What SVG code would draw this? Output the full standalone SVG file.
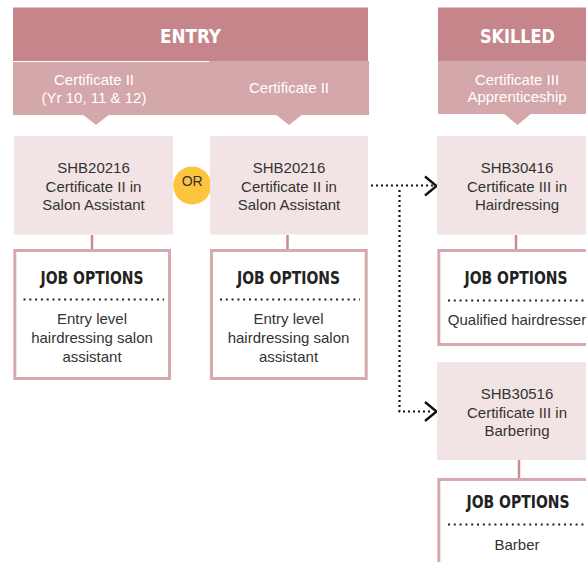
<svg xmlns="http://www.w3.org/2000/svg" width="586" height="562" viewBox="0 0 586 562">
<defs>
<style>
.hdr{fill:#c5858b}
.sub{fill:#d4a7aa}
.hdrt{font-family:"DejaVu Sans Condensed","DejaVu Sans","Liberation Sans",sans-serif;font-weight:bold;font-size:19px;fill:#fff;text-anchor:middle}
.subt{font-family:"Liberation Sans",Arial,sans-serif;font-size:15px;fill:#fff;text-anchor:middle}
.node{fill:#f2e4e4}
.nt{font-family:"Liberation Sans",Arial,sans-serif;font-size:15px;fill:#333;text-anchor:middle}
.job{fill:#fff;stroke:#d6a9ad;stroke-width:3}
.jt{font-family:"DejaVu Sans Condensed","DejaVu Sans","Liberation Sans",sans-serif;font-weight:bold;font-size:17px;fill:#222;text-anchor:middle}
.dots{stroke:#222;stroke-width:2;stroke-dasharray:2 3.8;fill:none}
.link{stroke:#c98a90;stroke-width:2.5;fill:none}
.flow{stroke:#111;stroke-width:2.2;stroke-dasharray:2 3;fill:none}
.chev{stroke:#111;stroke-width:2.4;fill:none}
</style>
</defs>

<g id="entry-header">
<rect class="hdr" x="13" y="7.5" width="355" height="53.5"/>
<rect class="sub" x="13" y="62" width="196" height="53"/>
<rect class="sub" x="209" y="61" width="160" height="54"/>
<polygon class="sub" points="82,114 110,114 96,125"/>
<polygon class="sub" points="275,114 303,114 289,125"/>
<text class="hdrt" x="190.5" y="43" textLength="61" lengthAdjust="spacingAndGlyphs">ENTRY</text>
<text class="subt" x="94" y="85">Certificate II</text>
<text class="subt" x="94" y="102.5">(Yr 10, 11 &amp; 12)</text>
<text class="subt" x="289" y="92.5">Certificate II</text>
</g>

<g id="skilled-header">
<rect class="hdr" x="438" y="7.5" width="160" height="53.5"/>
<rect class="sub" x="438" y="61" width="160" height="53"/>
<polygon class="sub" points="503,113 532,113 517.5,125"/>
<text class="hdrt" x="517.5" y="43" textLength="75" lengthAdjust="spacingAndGlyphs">SKILLED</text>
<text class="subt" x="517" y="85">Certificate III</text>
<text class="subt" x="517" y="102">Apprenticeship</text>
</g>

<g id="connectors">
<line class="link" x1="92" y1="235" x2="92" y2="250"/>
<line class="link" x1="287.5" y1="235" x2="287.5" y2="250"/>
<line class="link" x1="516" y1="235" x2="516" y2="250"/>
<line class="link" x1="519" y1="460" x2="519" y2="479"/>
<path class="flow" d="M371,185.5 H433"/>
<path class="flow" d="M399.5,190 V411.5 H433"/>
<polyline class="chev" points="425,176.5 436.5,186 425,195.5"/>
<polyline class="chev" points="425,402 436.5,411.5 425,421"/>
</g>

<g id="or">
<circle cx="192.2" cy="185.5" r="19" fill="#fdc53e"/>
<text x="192.2" y="186" font-family="'Liberation Sans',Arial,sans-serif" font-size="14" fill="#333" text-anchor="middle">OR</text>
</g>

<g id="node-shb20216-a">
<rect class="node" x="14" y="136" width="159" height="98.5"/>
<text class="nt" x="93.5" y="173">SHB20216</text>
<text class="nt" x="93.5" y="191.5">Certificate II in</text>
<text class="nt" x="93.5" y="210">Salon Assistant</text>
</g>

<g id="node-shb20216-b">
<rect class="node" x="210" y="136" width="158" height="98.5"/>
<text class="nt" x="289" y="173">SHB20216</text>
<text class="nt" x="289" y="191.5">Certificate II in</text>
<text class="nt" x="289" y="210">Salon Assistant</text>
</g>

<g id="node-shb30416">
<rect class="node" x="437" y="136" width="160" height="98.5"/>
<text class="nt" x="517" y="173">SHB30416</text>
<text class="nt" x="517" y="191.5">Certificate III in</text>
<text class="nt" x="517" y="210">Hairdressing</text>
</g>

<g id="node-shb30516">
<rect class="node" x="437" y="362" width="160" height="98"/>
<text class="nt" x="517" y="399">SHB30516</text>
<text class="nt" x="517" y="417.5">Certificate III in</text>
<text class="nt" x="517" y="436">Barbering</text>
</g>

<g id="job-a">
<rect class="job" x="14.8" y="250.5" width="154.7" height="128"/>
<text class="jt" x="92" y="284" textLength="103" lengthAdjust="spacingAndGlyphs">JOB OPTIONS</text>
<line class="dots" x1="23.5" y1="299.5" x2="164" y2="299.5"/>
<text class="nt" x="92" y="324">Entry level</text>
<text class="nt" x="92" y="343">hairdressing salon</text>
<text class="nt" x="92" y="362">assistant</text>
</g>

<g id="job-b">
<rect class="job" x="211.5" y="250.5" width="154.7" height="128"/>
<text class="jt" x="288.5" y="284" textLength="103" lengthAdjust="spacingAndGlyphs">JOB OPTIONS</text>
<line class="dots" x1="220" y1="299.5" x2="360" y2="299.5"/>
<text class="nt" x="288.5" y="324">Entry level</text>
<text class="nt" x="288.5" y="343">hairdressing salon</text>
<text class="nt" x="288.5" y="362">assistant</text>
</g>

<g id="job-c">
<rect class="job" x="438.8" y="250.5" width="160" height="94"/>
<text class="jt" x="516" y="284" textLength="103" lengthAdjust="spacingAndGlyphs">JOB OPTIONS</text>
<line class="dots" x1="448" y1="300.5" x2="590" y2="300.5"/>
<text class="nt" x="517" y="325">Qualified hairdresser</text>
</g>

<g id="job-d">
<rect class="job" x="438.8" y="479.5" width="160" height="120"/>
<text class="jt" x="518" y="508" textLength="103" lengthAdjust="spacingAndGlyphs">JOB OPTIONS</text>
<line class="dots" x1="448" y1="524.5" x2="590" y2="524.5"/>
<text class="nt" x="517" y="550">Barber</text>
</g>
</svg>
